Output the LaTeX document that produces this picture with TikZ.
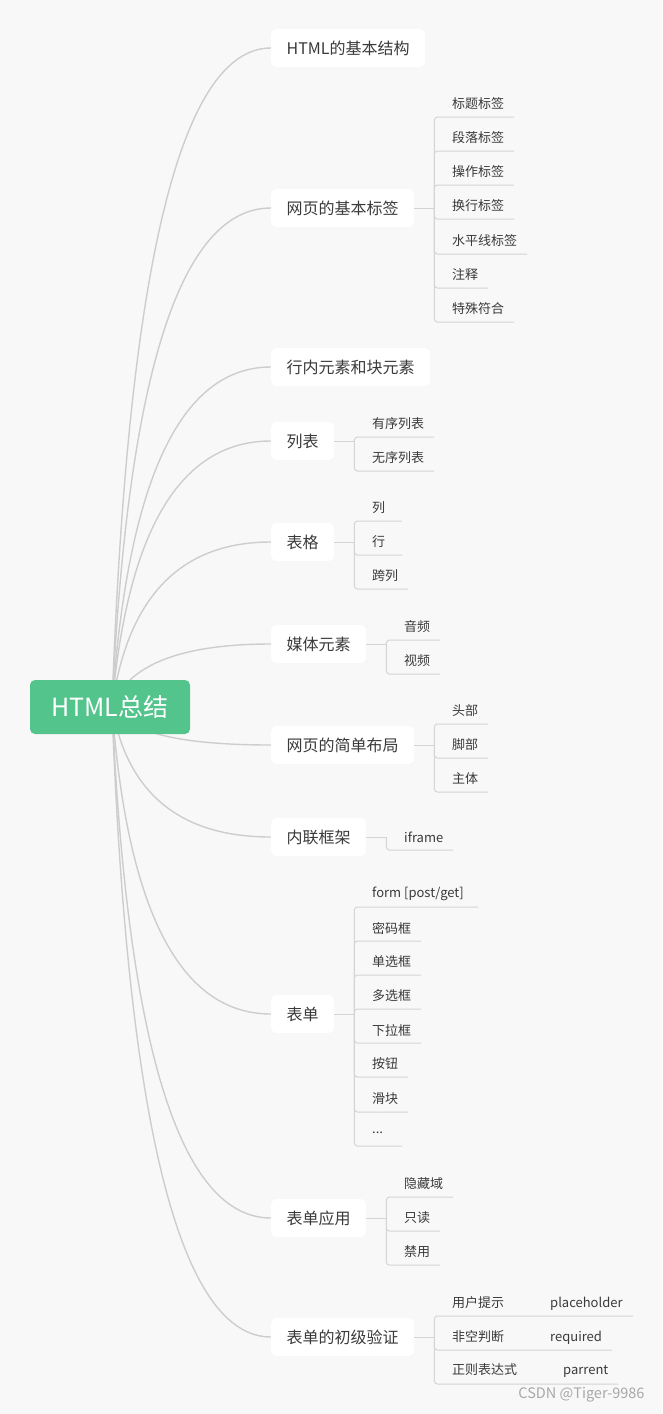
\documentclass[tikz,border=0pt]{standalone}
\usepackage{fontspec}
\setmainfont{Noto Sans CJK SC}
\usetikzlibrary{calc,backgrounds}
\definecolor{bggray}{HTML}{F8F8F8}
\definecolor{rootgreen}{HTML}{52C48C}
\definecolor{curvegray}{HTML}{CDCDCD}
\definecolor{twiggray}{HTML}{D4D4D4}
\definecolor{inkgray}{HTML}{3A3A3A}
\definecolor{markgray}{HTML}{A8A8A8}

\begin{document}
\begin{tikzpicture}[x=1pt, y=-1pt,
    root/.style={fill=rootgreen, rounded corners=5pt, text=white, inner sep=0pt,
      minimum width=160pt, minimum height=54pt, font=\fontsize{25}{25}\selectfont},
    topic/.style={fill=white, rounded corners=6pt, text=inkgray, anchor=west,
      inner xsep=15.5pt, minimum height=38pt, font=\fontsize{16}{16}\selectfont},
    leaf/.style={text=inkgray, anchor=west, inner sep=0pt, font=\fontsize{13}{13}\selectfont},
    branch/.style={draw=curvegray, line width=1.4pt},
    twig/.style={draw=twiggray, line width=1pt, rounded corners=3pt}]
  \useasboundingbox (0,0) rectangle (662,1414);

  % centre and main topics
  \node[root] (root) at (110,707) {HTML总结};
  \coordinate (hub) at ([xshift=2pt]root.center);
  \foreach \i/\ty/\t in {1/48/HTML的基本结构, 2/208/网页的基本标签, 3/367/行内元素和块元素,
      4/441/列表, 5/542/表格, 6/644/媒体元素, 7/745/网页的简单布局, 8/837/内联框架,
      9/1014/表单, 10/1218/表单应用, 11/1337/表单的初级验证}
    \node[topic] (t\i) at (271,\ty) {\t};

  % curves, kept behind the nodes
  \begin{scope}[on background layer]
    \fill[bggray] (0,0) rectangle (662,1414);
    \foreach \i/\ty in {1/48, 2/208, 3/367, 4/441, 5/542, 6/644, 7/745, 8/837,
        9/1014, 10/1218, 11/1337}
      \draw[branch] (hub) .. controls ($(hub)!2/3!(135,\ty)$)
        and ($(t\i.west)!2/3!(135,\ty)$) .. (t\i.west);
  \end{scope}

  % short stubs to the brackets
  \foreach \i in {2,4,5,6,7,8,9,10,11} {
    \coordinate (b\i) at ([xshift=20pt]t\i.east);
    \draw[twig] (t\i.east) -- (b\i);
  }

  % 网页的基本标签
  \foreach \y/\t/\e [count=\k] in {104/标题标签/514, 138/段落标签/514, 172/操作标签/514,
      206/换行标签/514, 241/水平线标签/527, 275/注释/488, 309/特殊符合/514} {
    \node[leaf] (l2-\k) at (452,\y) {\t};
    \coordinate (l2-\k-e) at (\e,\y+13);
    \draw[twig] (b2) |- (l2-\k-e);
  }
  % 列表
  \foreach \y/\t/\e [count=\k] in {424/有序列表/434, 458/无序列表/434} {
    \node[leaf] (l4-\k) at (372,\y) {\t};
    \coordinate (l4-\k-e) at (\e,\y+13);
    \draw[twig] (b4) |- (l4-\k-e);
  }
  % 表格
  \foreach \y/\t/\e [count=\k] in {508/列/402, 542/行/402, 576/跨列/408} {
    \node[leaf] (l5-\k) at (372,\y) {\t};
    \coordinate (l5-\k-e) at (\e,\y+13);
    \draw[twig] (b5) |- (l5-\k-e);
  }
  % 媒体元素
  \foreach \y/\t/\e [count=\k] in {627/音频/440, 661/视频/440} {
    \node[leaf] (l6-\k) at (404,\y) {\t};
    \coordinate (l6-\k-e) at (\e,\y+13);
    \draw[twig] (b6) |- (l6-\k-e);
  }
  % 网页的简单布局
  \foreach \y/\t/\e [count=\k] in {711/头部/488, 745/脚部/488, 779/主体/488} {
    \node[leaf] (l7-\k) at (452,\y) {\t};
    \coordinate (l7-\k-e) at (\e,\y+13);
    \draw[twig] (b7) |- (l7-\k-e);
  }
  % 内联框架
  \node[leaf] (l8-1) at (404,837) {iframe};
  \coordinate (l8-1-e) at (453,850);
  \draw[twig] (b8) |- (l8-1-e);
  % 表单
  \foreach \y/\t/\e [count=\k] in {894/{form [post/get]}/478, 928/密码框/421, 962/单选框/421,
      996/多选框/421, 1030/下拉框/421, 1064/按钮/408, 1099/滑块/408, 1133/{.{}.{}.}/402} {
    \node[leaf] (l9-\k) at (372,\y) {\t};
    \coordinate (l9-\k-e) at (\e,\y+13);
    \draw[twig] (b9) |- (l9-\k-e);
  }
  % 表单应用
  \foreach \y/\t/\e [count=\k] in {1184/隐藏域/453, 1218/只读/440, 1252/禁用/440} {
    \node[leaf] (l10-\k) at (404,\y) {\t};
    \coordinate (l10-\k-e) at (\e,\y+13);
    \draw[twig] (b10) |- (l10-\k-e);
  }
  % 表单的初级验证
  \foreach \y/\t/\e [count=\k] in {1303/{用户提示\hspace{46pt}placeholder}/633,
      1337/{非空判断\hspace{46pt}required}/612, 1371/{正则表达式\hspace{46pt}parrent}/618} {
    \node[leaf] (l11-\k) at (452,\y) {\t};
    \coordinate (l11-\k-e) at (\e,\y+13);
    \draw[twig] (b11) |- (l11-\k-e);
  }

  \node[text=markgray, anchor=east, font=\fontsize{14.5}{14.5}\selectfont] (mark) at (648,1395) {CSDN @Tiger-9986};
\end{tikzpicture}
\end{document}
